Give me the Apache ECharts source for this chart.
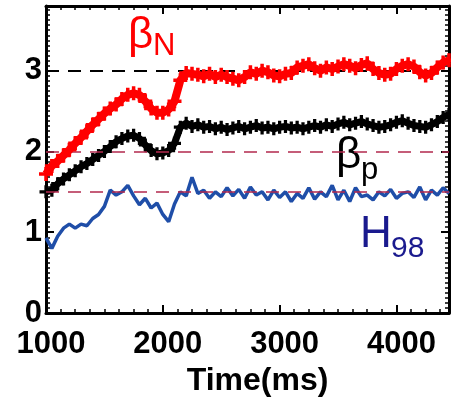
<!DOCTYPE html>
<html>
<head>
<meta charset="utf-8">
<script src="https://cdn.jsdelivr.net/npm/echarts@6/dist/echarts.min.js"></script>
<style>
  html, body { margin: 0; padding: 0; background: #ffffff; }
  #chart { width: 451px; height: 402px; }
</style>
</head>
<body>
<div id="chart"></div>
<script>
// Sample times (ms)
const times = [
  1000, 1050, 1100, 1150, 1200, 1250, 1300, 1350, 1400, 1450,
  1500, 1550, 1600, 1650, 1700, 1750, 1800, 1850, 1900, 1950,
  2000, 2050, 2100, 2150, 2200, 2250, 2300, 2350, 2400, 2450,
  2500, 2550, 2600, 2650, 2700, 2750, 2800, 2850, 2900, 2950,
  3000, 3050, 3100, 3150, 3200, 3250, 3300, 3350, 3400, 3450,
  3500, 3550, 3600, 3650, 3700, 3750, 3800, 3850, 3900, 3950,
  4000, 4050, 4100, 4150, 4200, 4250, 4300, 4350, 4400, 4450
];

// Normalised beta
const betaN = [
  1.72, 1.82, 1.88, 1.95, 2.02, 2.10, 2.17, 2.25, 2.33, 2.40,
  2.47, 2.53, 2.58, 2.65, 2.70, 2.72, 2.70, 2.62, 2.53, 2.48,
  2.48, 2.52, 2.62, 2.88, 2.97, 2.96, 2.95, 2.93, 2.96, 2.92,
  2.95, 2.92, 2.90, 2.88, 2.92, 2.98, 2.96, 3.00, 2.98, 2.94,
  2.93, 2.96, 2.97, 3.04, 3.06, 3.08, 3.03, 3.00, 3.04, 3.02,
  3.05, 3.08, 3.06, 3.03, 3.07, 3.09, 3.02, 2.97, 2.95, 2.96,
  3.02, 3.06, 3.08, 3.05, 2.98, 2.94, 2.97, 3.04, 3.10, 3.13
];

// Poloidal beta
const betaP = [
  1.50, 1.52, 1.60, 1.66, 1.71, 1.76, 1.81, 1.85, 1.90, 1.95,
  2.00, 2.06, 2.12, 2.16, 2.19, 2.20, 2.16, 2.08, 2.01, 1.97,
  1.98, 2.01, 2.10, 2.30, 2.35, 2.31, 2.33, 2.30, 2.31, 2.28,
  2.30, 2.27, 2.29, 2.31, 2.28, 2.30, 2.32, 2.29, 2.30, 2.28,
  2.30, 2.31, 2.29, 2.30, 2.28, 2.30, 2.32, 2.30, 2.33, 2.31,
  2.34, 2.36, 2.33, 2.35, 2.37, 2.34, 2.32, 2.30, 2.31, 2.33,
  2.36, 2.38, 2.35, 2.32, 2.31, 2.30, 2.33, 2.37, 2.42, 2.46
];

// Confinement enhancement factor
const h98 = [
  0.93, 0.80, 0.95, 1.05, 1.10, 1.05, 1.10, 1.08, 1.17, 1.22,
  1.32, 1.52, 1.46, 1.50, 1.58, 1.45, 1.34, 1.42, 1.30, 1.36,
  1.22, 1.13, 1.35, 1.50, 1.45, 1.68, 1.48, 1.52, 1.42, 1.50,
  1.44, 1.55, 1.45, 1.53, 1.42, 1.56, 1.46, 1.50, 1.40, 1.52,
  1.43, 1.50, 1.38, 1.48, 1.42, 1.55, 1.41, 1.50, 1.44, 1.58,
  1.40, 1.52, 1.38, 1.55, 1.44, 1.46, 1.40, 1.50, 1.45, 1.53,
  1.42, 1.48, 1.50, 1.43, 1.56, 1.40, 1.52, 1.46, 1.55, 1.48
];

// Reference levels (dashed)
const refLevels = [3, 2, 1.5];
const refColors = ['#000000', '#b3294e', '#b3294e'];

// Axis ticks
const xTicks = [1000, 2000, 3000, 4000];
const yTicks = [0, 1, 2, 3];

const pair = (vals) => times.map((t, i) => [t, vals[i]]);
const plusMark = 'path://M3,0H5V3H8V5H5V8H3V5H0V3H3Z';

const chart = echarts.init(document.getElementById('chart'), null, { renderer: 'canvas' });

const frameAxis = {
  axisLine: { show: true, onZero: false, lineStyle: { color: '#000', width: 3 } },
  axisTick: { show: true, inside: true, length: 8, lineStyle: { color: '#000', width: 2 } },
  minorTick: { show: true, splitNumber: 8, length: 4, lineStyle: { color: '#000', width: 1.5 } },
  splitLine: { show: false }
};

const labelFont = { color: '#000', fontFamily: 'Liberation Sans, Arial, sans-serif', fontWeight: 'bold' };

chart.setOption({
  animation: false,
  backgroundColor: '#ffffff',
  grid: { left: 46, right: 2, top: 6, bottom: 89, containLabel: false },
  xAxis: [
    Object.assign({}, frameAxis, {
      type: 'value', position: 'bottom', min: 1000, max: 4450, interval: 1000,
      axisLabel: Object.assign({}, labelFont, {
        fontSize: 31, margin: 16, padding: [0, 0, 0, 10],
        showMinLabel: true, showMaxLabel: false,
        formatter: (v) => (xTicks.indexOf(v) >= 0 ? String(v) : '')
      }),
      name: 'Time(ms)', nameLocation: 'middle', nameGap: 38,
      nameTextStyle: Object.assign({}, labelFont, { fontSize: 32, padding: [0, 0, 0, 20] })
    }),
    Object.assign({}, frameAxis, {
      type: 'value', position: 'top', min: 1000, max: 4450, interval: 1000,
      axisLabel: { show: false }
    })
  ],
  yAxis: [
    Object.assign({}, frameAxis, {
      type: 'value', position: 'left', min: 0, max: 3.8, interval: 1,
      minorTick: Object.assign({}, frameAxis.minorTick, { splitNumber: 16 }),
      axisLabel: Object.assign({}, labelFont, {
        fontSize: 31, margin: 4, showMaxLabel: false,
        formatter: (v) => (yTicks.indexOf(v) >= 0 ? String(v) : '')
      })
    }),
    Object.assign({}, frameAxis, {
      type: 'value', position: 'right', min: 0, max: 3.8, interval: 1,
      minorTick: Object.assign({}, frameAxis.minorTick, { splitNumber: 16 }),
      axisLabel: { show: false }
    })
  ],
  series: [
    {
      name: 'H98', type: 'line', data: pair(h98), showSymbol: false, symbol: 'none',
      lineStyle: { color: '#1f4ea8', width: 3.5 }, z: 3
    },
    {
      name: 'betaP', type: 'line', data: pair(betaP),
      symbol: plusMark, symbolSize: 13, showAllSymbol: true,
      itemStyle: { color: '#000000' },
      lineStyle: { color: '#000000', width: 7 }, z: 4
    },
    {
      name: 'betaN', type: 'line', data: pair(betaN),
      symbol: plusMark, symbolSize: 14, showAllSymbol: true,
      itemStyle: { color: '#ff0000' },
      lineStyle: { color: '#ff0000', width: 8 }, z: 5
    },
    {
      name: 'levels', type: 'line', data: [], z: 6,
      markLine: {
        silent: true, symbol: ['none', 'none'], label: { show: false },
        data: refLevels.map((v, i) => ({
          yAxis: v,
          lineStyle: { color: refColors[i], width: i === 0 ? 2 : 1.5, type: [13, 9] }
        }))
      }
    }
  ],
  graphic: [
    { type: 'text', left: 128, top: 14, style: { text: 'β', fill: '#ff0000', font: '44px Liberation Sans, Arial, sans-serif' } },
    { type: 'text', left: 153, top: 31, style: { text: 'N', fill: '#ff0000', font: '31px Liberation Sans, Arial, sans-serif' } },
    { type: 'text', left: 336, top: 134, style: { text: 'β', fill: '#000000', font: '44px Liberation Sans, Arial, sans-serif' } },
    { type: 'text', left: 361, top: 155, style: { text: 'p', fill: '#000000', font: '31px Liberation Sans, Arial, sans-serif' } },
    { type: 'text', left: 360, top: 213, style: { text: 'H', fill: '#1a1a8e', font: '44px Liberation Sans, Arial, sans-serif' } },
    { type: 'text', left: 391, top: 234, style: { text: '98', fill: '#1a1a8e', font: '30px Liberation Sans, Arial, sans-serif' } }
  ]
});
</script>
</body>
</html>
